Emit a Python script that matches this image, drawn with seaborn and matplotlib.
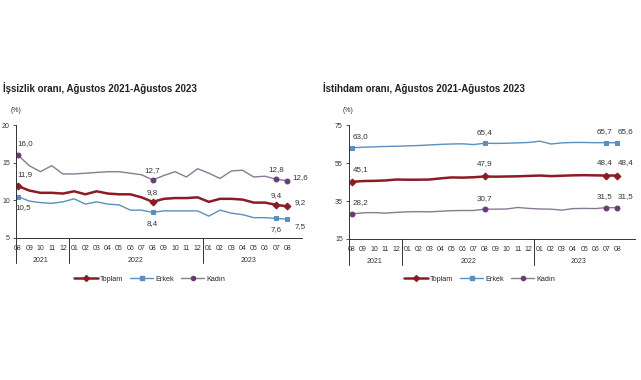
import matplotlib
matplotlib.use("Agg")
import matplotlib.pyplot as plt
import seaborn as sns
import numpy as np
from matplotlib.lines import Line2D

sns.set_style("white")
plt.rcParams['font.family'] = ['Liberation Sans', 'DejaVu Sans']

months = ["08", "09", "10", "11", "12", "01", "02", "03", "04", "05", "06", "07",
          "08", "09", "10", "11", "12", "01", "02", "03", "04", "05", "06", "07", "08"]
years = ["2021", "2022", "2023"]

# Unemployment (İşsizlik oranı)
u_toplam = [11.9, 11.3, 11.0, 11.0, 10.9, 11.2, 10.8, 11.2, 10.9, 10.8, 10.8, 10.4,
            9.8, 10.2, 10.3, 10.3, 10.4, 9.8, 10.2, 10.2, 10.1, 9.7, 9.7, 9.4, 9.2]
u_erkek = [10.5, 9.9, 9.7, 9.6, 9.8, 10.2, 9.5, 9.8, 9.5, 9.4, 8.7, 8.7,
           8.4, 8.6, 8.6, 8.6, 8.6, 7.9, 8.7, 8.3, 8.1, 7.7, 7.7, 7.6, 7.5]
u_kadin = [16.0, 14.6, 13.8, 14.6, 13.5, 13.5, 13.6, 13.7, 13.8, 13.8, 13.6, 13.4,
           12.7, 13.3, 13.8, 13.1, 14.2, 13.6, 12.9, 13.9, 14.0, 13.1, 13.2, 12.8, 12.6]

# Employment (İstihdam oranı)
e_toplam = [45.1, 45.5, 45.6, 45.8, 46.3, 46.2, 46.2, 46.3, 46.9, 47.4, 47.3, 47.5,
            47.9, 47.8, 47.9, 48.0, 48.2, 48.4, 48.1, 48.3, 48.5, 48.6, 48.5, 48.4, 48.4]
e_erkek = [63.0, 63.3, 63.5, 63.7, 63.8, 64.0, 64.2, 64.5, 64.8, 65.0, 65.1, 64.7,
           65.4, 65.3, 65.4, 65.6, 65.8, 66.5, 65.0, 65.6, 65.8, 65.8, 65.7, 65.7, 65.6]
e_kadin = [28.2, 28.8, 28.9, 28.6, 29.0, 29.3, 29.4, 29.3, 29.6, 29.9, 30.0, 30.0,
           30.7, 30.7, 30.8, 31.6, 31.1, 30.8, 30.7, 30.2, 31.0, 31.1, 31.0, 31.5, 31.5]

labeled = [0, 12, 23, 24]

C_TOP = "#8c1c24"
C_ERK = "#5a8fbf"
C_KAD = "#8a7a92"
C_KADM = "#6a3a78"

fig = plt.figure(figsize=(6.41, 3.8), dpi=100)

def fmt(v):
    return f"{v:.1f}".replace(".", ",")

def panel(rect, title, ylims, yticks, series, label_offsets, xlim, legend_x, title_x, pct_x):
    ax = fig.add_axes(rect)
    x = np.arange(len(months))
    for name, vals, col, mcol, lw, mk in series:
        sns.lineplot(x=x, y=vals, ax=ax, color=col, linewidth=lw, marker=mk,
                     markevery=labeled, markersize=3.5, markerfacecolor=mcol,
                     markeredgecolor=mcol, label=name, legend=False)
    for (name, vals, col, mcol, lw, mk), offs in zip(series, label_offsets):
        for i, (dx, dy) in zip(labeled, offs):
            ax.annotate(fmt(vals[i]), (i, vals[i]), xytext=(dx, dy), textcoords="offset points",
                        fontsize=5.8, color="#333333", ha="center", va="center")
    ax.set_ylim(*ylims)
    ax.set_yticks(yticks)
    ax.set_yticklabels([str(t) for t in yticks], fontsize=5)
    ax.set_xlim(*xlim)
    ax.set_xticks(x)
    ax.set_xticklabels(months, fontsize=5, color="#333333")
    ax.tick_params(axis="x", length=0, pad=5)
    ax.tick_params(axis="y", length=2.5, width=0.6, pad=2, left=True, colors="#333333")
    for s in ["top", "right"]:
        ax.spines[s].set_visible(False)
    for s in ["left", "bottom"]:
        ax.spines[s].set_color("#333333")
        ax.spines[s].set_linewidth(0.7)
    tr = ax.get_xaxis_transform()
    for xs in [xlim[0], 4.5, 16.5]:
        ax.plot([xs, xs], [0, -0.225], transform=tr, color="#333333", lw=0.7, clip_on=False)
    for yl, xc in zip(years, [2, 10.5, 20.5]):
        ax.text(xc, -0.195, yl, transform=tr, fontsize=5, ha="center", va="center", color="#333333")
    fig.text(pct_x, 1 - 111 / 380, "(%)", fontsize=5, ha="left", va="center", color="#333333")
    fig.text(title_x, 1 - 88 / 380, title, fontsize=7, fontweight="bold", ha="left", va="center",
             color="#222222")
    handles = [Line2D([0], [0], color=c, lw=lw, marker=mk, markersize=3, markerfacecolor=mc,
                      markeredgecolor=mc) for n, v, c, mc, lw, mk in series]
    fig.legend(handles, [s[0] for s in series], loc="center", bbox_to_anchor=(legend_x, 1 - 279 / 380),
               ncol=3, frameon=False, fontsize=5.2, handlelength=3.2, columnspacing=1.0, handletextpad=0.3)
    return ax

ax1 = panel([16 / 641, 1 - 238 / 380, 286 / 641, 113 / 380],
            "İşsizlik oranı, Ağustos 2021-Ağustos 2023",
            (5, 20), [5, 10, 15, 20],
            [("Toplam", u_toplam, C_TOP, C_TOP, 1.8, "D"),
             ("Erkek", u_erkek, C_ERK, C_ERK, 1.0, "s"),
             ("Kadın", u_kadin, C_KAD, C_KADM, 1.0, "o")],
            [[(5, 8), (0, 7), (0, 7), (9, 3)],
             [(4, -8), (0, -8), (0, -8), (9, -5)],
             [(5, 8), (0, 7), (0, 7), (9, 2)]],
            (-0.18, 25.3), 150 / 641, 3 / 641, 11 / 641)

ax2 = panel([349 / 641, 1 - 239 / 380, 286 / 641, 114 / 380],
            "İstihdam oranı, Ağustos 2021-Ağustos 2023",
            (15, 75), [15, 35, 55, 75],
            [("Toplam", e_toplam, C_TOP, C_TOP, 1.8, "D"),
             ("Erkek", e_erkek, C_ERK, C_ERK, 1.0, "s"),
             ("Kadın", e_kadin, C_KAD, C_KADM, 1.0, "o")],
            [[(6, 9), (0, 9), (-1, 9), (6, 9)],
             [(6, 8), (0, 8), (-1, 8), (6, 8)],
             [(6, 8), (0, 8), (-1, 8), (6, 8)]],
            (-0.27, 25.6), 480 / 641, 323 / 641, 343 / 641)

fig.savefig("out.png", dpi=100, facecolor="white")
